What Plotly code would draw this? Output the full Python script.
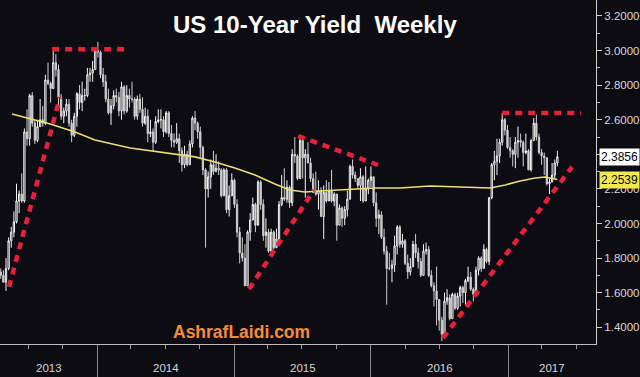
import pandas as pd
import plotly.graph_objects as go

# ---------------- data ----------------
week_end = pd.date_range("2013-04-19", periods=213, freq="W-FRI")

opens = [
    1.72, 1.70, 1.66, 1.74, 1.90, 1.95, 2.01, 2.13, 2.17, 2.13, 2.53, 2.49, 2.74, 2.58, 2.48, 2.56, 2.60, 2.58, 2.83, 2.81,
    2.78, 2.93, 2.89, 2.73, 2.62, 2.65, 2.69, 2.58, 2.51, 2.62, 2.75, 2.70, 2.74, 2.74, 2.86, 2.87, 2.89,
    3.00, 2.99, 2.86, 2.82, 2.72, 2.64, 2.68, 2.74, 2.73, 2.65, 2.79, 2.65, 2.74, 2.72, 2.72, 2.62, 2.72, 2.66, 2.58, 2.62,
    2.52, 2.53, 2.47, 2.59, 2.60, 2.60, 2.53, 2.64, 2.52, 2.48, 2.47, 2.49, 2.42, 2.34, 2.40, 2.34, 2.46, 2.61, 2.58, 2.53,
    2.44, 2.31, 2.20, 2.27, 2.34, 2.30, 2.32, 2.31, 2.16, 2.31, 2.08, 2.16,
    2.25, 2.11, 1.95, 1.83, 1.80, 1.64, 1.95, 2.02, 2.11, 1.99, 2.24, 2.11, 1.93, 1.95, 1.84, 1.95, 1.86, 1.91, 2.11, 2.15,
    2.14, 2.21, 2.12, 2.40, 2.39, 2.26, 2.48, 2.38, 2.40, 2.35, 2.26, 2.18, 2.17, 2.19, 2.04, 2.18, 2.13, 2.19, 2.13, 2.17,
    1.99, 2.09, 2.03, 2.08, 2.14, 2.33, 2.28, 2.26, 2.22, 2.27, 2.13, 2.20,
    2.25, 2.27, 2.12, 2.03, 2.05, 1.92, 1.84, 1.74, 1.74, 1.76, 1.87, 1.98, 1.88, 1.90, 1.77, 1.72, 1.75, 1.88, 1.83, 1.78,
    1.70, 1.84, 1.85, 1.70, 1.64, 1.61, 1.56, 1.44, 1.36, 1.55, 1.57, 1.45, 1.59, 1.51, 1.58, 1.63, 1.60, 1.67, 1.69, 1.62,
    1.59, 1.73, 1.80, 1.74, 1.85, 1.78, 2.15, 2.34, 2.36, 2.39, 2.47, 2.60, 2.54,
    2.44, 2.42, 2.40, 2.47, 2.48, 2.47, 2.41, 2.42, 2.31, 2.48, 2.58, 2.50, 2.41, 2.39, 2.38, 2.23, 2.24, 2.28, 2.35,
]
highs = [
    1.74, 1.73, 1.80, 1.92, 1.98, 2.07, 2.23, 2.19, 2.29, 2.55, 2.66, 2.75, 2.76, 2.60, 2.60, 2.72, 2.68, 2.86, 2.93, 2.82,
    3.00, 2.98, 2.92, 2.75, 2.67, 2.72, 2.72, 2.60, 2.64, 2.76, 2.80, 2.82, 2.78, 2.90, 2.90, 2.94, 3.02,
    3.05, 3.00, 2.90, 2.86, 2.78, 2.72, 2.77, 2.78, 2.76, 2.82, 2.80, 2.80, 2.78, 2.82, 2.73, 2.74, 2.75, 2.73, 2.67, 2.66,
    2.60, 2.55, 2.62, 2.66, 2.66, 2.62, 2.65, 2.65, 2.57, 2.52, 2.58, 2.52, 2.44, 2.45, 2.42, 2.48, 2.62, 2.65, 2.59, 2.56,
    2.45, 2.32, 2.30, 2.37, 2.42, 2.40, 2.36, 2.32, 2.32, 2.32, 2.22, 2.29,
    2.26, 2.14, 1.98, 1.92, 1.88, 1.96, 2.06, 2.15, 2.12, 2.25, 2.25, 2.14, 2.03, 1.97, 1.97, 1.96, 1.97, 2.13, 2.28, 2.32,
    2.25, 2.22, 2.43, 2.50, 2.40, 2.49, 2.50, 2.43, 2.47, 2.38, 2.29, 2.30, 2.25, 2.21, 2.22, 2.25, 2.24, 2.31, 2.18, 2.17,
    2.11, 2.10, 2.10, 2.19, 2.34, 2.37, 2.30, 2.26, 2.32, 2.28, 2.33, 2.26,
    2.33, 2.27, 2.18, 2.08, 2.07, 1.97, 1.87, 1.83, 1.79, 1.93, 1.99, 1.99, 1.94, 1.91, 1.82, 1.80, 1.90, 1.94, 1.86, 1.80,
    1.88, 1.89, 1.87, 1.73, 1.66, 1.75, 1.56, 1.46, 1.60, 1.62, 1.59, 1.60, 1.60, 1.60, 1.64, 1.64, 1.68, 1.75, 1.72, 1.63,
    1.75, 1.81, 1.81, 1.88, 1.86, 2.15, 2.35, 2.42, 2.49, 2.49, 2.64, 2.61, 2.57,
    2.50, 2.43, 2.50, 2.56, 2.52, 2.48, 2.52, 2.43, 2.49, 2.61, 2.63, 2.52, 2.43, 2.41, 2.38, 2.26, 2.35, 2.37, 2.42,
]
lows = [
    1.68, 1.66, 1.61, 1.73, 1.86, 1.92, 2.00, 2.06, 2.12, 2.12, 2.45, 2.45, 2.56, 2.46, 2.47, 2.56, 2.56, 2.57, 2.80, 2.70,
    2.78, 2.85, 2.68, 2.60, 2.58, 2.62, 2.56, 2.47, 2.50, 2.56, 2.66, 2.65, 2.71, 2.73, 2.82, 2.82, 2.89,
    2.96, 2.84, 2.79, 2.70, 2.63, 2.57, 2.66, 2.70, 2.62, 2.60, 2.63, 2.64, 2.67, 2.70, 2.60, 2.60, 2.64, 2.56, 2.57, 2.47,
    2.50, 2.42, 2.46, 2.58, 2.55, 2.50, 2.52, 2.50, 2.44, 2.44, 2.46, 2.35, 2.30, 2.32, 2.33, 2.34, 2.44, 2.54, 2.49, 2.38,
    2.28, 1.86, 2.15, 2.20, 2.28, 2.30, 2.28, 2.15, 2.16, 2.06, 2.04, 2.16,
    2.09, 1.92, 1.77, 1.78, 1.64, 1.64, 1.90, 2.02, 1.95, 1.99, 2.08, 1.90, 1.86, 1.83, 1.84, 1.85, 1.86, 1.88, 2.10, 2.13,
    2.12, 2.09, 2.10, 2.35, 2.25, 2.26, 2.26, 2.15, 2.35, 2.24, 2.18, 2.16, 2.08, 2.04, 1.91, 2.12, 2.13, 2.12, 2.10, 1.90,
    1.99, 1.98, 1.99, 2.04, 2.14, 2.26, 2.24, 2.20, 2.13, 2.12, 2.13, 2.17,
    2.21, 2.10, 1.98, 1.94, 1.91, 1.82, 1.53, 1.73, 1.66, 1.72, 1.82, 1.86, 1.86, 1.76, 1.68, 1.70, 1.75, 1.80, 1.74, 1.69,
    1.70, 1.82, 1.69, 1.63, 1.52, 1.41, 1.38, 1.32, 1.36, 1.53, 1.44, 1.45, 1.50, 1.50, 1.52, 1.54, 1.53, 1.66, 1.61, 1.55,
    1.59, 1.70, 1.72, 1.74, 1.77, 1.76, 2.14, 2.25, 2.28, 2.35, 2.45, 2.51, 2.43,
    2.38, 2.33, 2.32, 2.38, 2.44, 2.33, 2.40, 2.31, 2.30, 2.48, 2.48, 2.40, 2.34, 2.28, 2.22, 2.17, 2.24, 2.26, 2.33,
]
closes = [
    1.70, 1.66, 1.74, 1.90, 1.95, 2.01, 2.13, 2.17, 2.13, 2.53, 2.49, 2.74, 2.58, 2.48, 2.56, 2.60, 2.58, 2.83, 2.81, 2.78,
    2.93, 2.89, 2.73, 2.62, 2.65, 2.69, 2.58, 2.51, 2.62, 2.75, 2.70, 2.74, 2.74, 2.86, 2.87, 2.89, 3.00,
    2.99, 2.86, 2.82, 2.72, 2.64, 2.68, 2.74, 2.73, 2.65, 2.79, 2.65, 2.74, 2.72, 2.72, 2.62, 2.72, 2.66, 2.58, 2.62, 2.52,
    2.53, 2.47, 2.59, 2.60, 2.60, 2.53, 2.64, 2.52, 2.48, 2.47, 2.49, 2.42, 2.34, 2.40, 2.34, 2.46, 2.61, 2.58, 2.53, 2.44,
    2.31, 2.20, 2.27, 2.34, 2.30, 2.32, 2.31, 2.16, 2.31, 2.08, 2.16, 2.25,
    2.11, 1.95, 1.83, 1.80, 1.64, 1.95, 2.02, 2.11, 1.99, 2.24, 2.11, 1.93, 1.95, 1.84, 1.95, 1.86, 1.91, 2.11, 2.15, 2.14,
    2.21, 2.12, 2.40, 2.39, 2.26, 2.48, 2.38, 2.40, 2.35, 2.26, 2.18, 2.17, 2.19, 2.04, 2.18, 2.13, 2.19, 2.13, 2.17, 1.99,
    2.09, 2.03, 2.08, 2.14, 2.33, 2.28, 2.26, 2.22, 2.27, 2.13, 2.20, 2.25,
    2.27, 2.12, 2.03, 2.05, 1.92, 1.84, 1.74, 1.74, 1.76, 1.87, 1.98, 1.88, 1.90, 1.77, 1.72, 1.75, 1.88, 1.83, 1.78, 1.70,
    1.84, 1.85, 1.70, 1.64, 1.61, 1.56, 1.44, 1.36, 1.55, 1.57, 1.45, 1.59, 1.51, 1.58, 1.63, 1.60, 1.67, 1.69, 1.62, 1.59,
    1.73, 1.80, 1.74, 1.85, 1.78, 2.15, 2.34, 2.36, 2.39, 2.47, 2.60, 2.54, 2.44,
    2.42, 2.40, 2.47, 2.48, 2.47, 2.41, 2.42, 2.31, 2.48, 2.58, 2.50, 2.41, 2.39, 2.38, 2.23, 2.24, 2.28, 2.35, 2.3856,
]

# moving average
ma_dates = ["2013-05-19", "2013-08-29", "2013-11-03", "2013-12-26", "2014-03-30", "2014-06-18",
            "2014-09-19", "2014-11-11", "2015-01-03", "2015-02-26", "2015-04-20", "2015-05-30",
            "2015-07-09", "2015-08-18", "2015-11-06", "2016-01-12", "2016-03-19", "2016-06-07",
            "2016-08-26", "2016-11-14", "2016-12-24", "2017-02-02", "2017-03-14", "2017-04-09",
            "2017-05-12"]
ma_values = [2.633, 2.575, 2.529, 2.483, 2.437, 2.413, 2.385, 2.356, 2.321, 2.280, 2.228, 2.194,
             2.182, 2.188, 2.199, 2.205, 2.205, 2.217, 2.211, 2.205, 2.223, 2.246, 2.263, 2.269,
             2.2539]

# red dashed trend lines
trend_start_dates = ["2013-05-11", "2013-09-03", "2015-02-10", "2015-06-21", "2016-12-16", "2016-07-11"]
trend_start_vals = [1.633, 3.007, 1.621, 2.506, 2.639, 1.338]
trend_end_dates = ["2013-09-24", "2014-03-24", "2015-08-02", "2016-01-28", "2017-07-14", "2017-06-20"]
trend_end_vals = [2.731, 3.007, 2.194, 2.332, 2.639, 2.327]

year_labels = ["2013", "2014", "2015", "2016", "2017"]
x_range = ["2013-04-17", "2017-08-23"]
y_range = [1.303, 3.2925]

BG = "#0d0c13"
FONT = "Liberation Sans, Arial, sans-serif"

fig = go.Figure()

fig.add_trace(go.Candlestick(
    x=week_end, open=opens, high=highs, low=lows, close=closes,
    increasing=dict(line=dict(color="#f4f4f4", width=1), fillcolor=BG),
    decreasing=dict(line=dict(color="#cfcfcf", width=1), fillcolor="#cfcfcf"),
    whiskerwidth=0, showlegend=False, hoverinfo="skip",
))

fig.add_trace(go.Scatter(
    x=ma_dates, y=ma_values, mode="lines",
    line=dict(color="#e8e070", width=1.6), showlegend=False, hoverinfo="skip",
))

for xs, ys, xe, ye in zip(trend_start_dates, trend_start_vals, trend_end_dates, trend_end_vals):
    fig.add_trace(go.Scatter(
        x=[xs, xe], y=[ys, ye], mode="lines",
        line=dict(color="#e8203e", width=4.5, dash="7px,6px"),
        showlegend=False, hoverinfo="skip",
    ))

# year labels centred in the visible part of each year
x0 = pd.Timestamp(x_range[0])
x1 = pd.Timestamp(x_range[1])
annotations = []
for lab in year_labels:
    ys = max(pd.Timestamp(f"{lab}-01-01"), x0)
    ye = min(pd.Timestamp(f"{int(lab) + 1}-01-01"), x1)
    mid = ys + (ye - ys) / 2
    annotations.append(dict(
        x=mid, y=0, xref="x", yref="paper", text=lab, showarrow=False,
        yanchor="middle", yshift=-24, font=dict(family=FONT, size=11.5, color="#d6d6d6"),
    ))

annotations.append(dict(
    x=315 / 596, y=1, xref="paper", yref="paper", yanchor="middle", yshift=-24,
    text="US 10-Year Yield\u00a0\u00a0Weekly", showarrow=False,
    font=dict(family=FONT, size=24, color="#ffffff", weight="bold"),
))
annotations.append(dict(
    x=241 / 596, y=0, xref="paper", yref="paper", yanchor="middle", yshift=12,
    text="AshrafLaidi.com", showarrow=False,
    font=dict(family=FONT, size=17.5, color="#f28e35", weight="bold"),
))
annotations.append(dict(
    x=1, y=closes[-1], xref="paper", yref="y", xanchor="left", yanchor="middle", xshift=3,
    text=f"{closes[-1]:.4f}", showarrow=False, bgcolor="#ffffff", borderpad=1,
    font=dict(family=FONT, size=12, color="#000000"),
))
annotations.append(dict(
    x=1, y=ma_values[-1], xref="paper", yref="y", xanchor="left", yanchor="middle", xshift=3,
    text=f"{ma_values[-1]:.4f}", showarrow=False, bgcolor="#f3e84e", borderpad=1,
    font=dict(family=FONT, size=12, color="#000000"),
))

fig.update_layout(
    width=640, height=377,
    margin=dict(l=0, r=44, t=0, b=33),
    paper_bgcolor=BG, plot_bgcolor=BG,
    showlegend=False,
    annotations=annotations,
    xaxis=dict(
        type="date", range=x_range, rangeslider=dict(visible=False),
        showgrid=False, zeroline=False,
        showline=True, linecolor="#bdbdbd", linewidth=1,
        tickmode="array", tickvals=[f"{y}-01-01" for y in range(2014, 2018)],
        ticks="outside", ticklen=33, tickcolor="#8a8a8a", tickwidth=1,
        showticklabels=False,
        minor=dict(ticks="outside", ticklen=4, tickcolor="#9a9a9a", dtick="M3",
                   tick0="2013-01-01", showgrid=False),
    ),
    yaxis=dict(
        side="right", range=y_range, showgrid=False, zeroline=False,
        tickmode="linear", tick0=1.4, dtick=0.2, tickformat=".4f",
        ticks="outside", ticklen=5, tickcolor="#d0d0d0", tickwidth=1,
        showline=True, linecolor="#d0d0d0", linewidth=1,
        tickfont=dict(family=FONT, size=11.5, color="#d8d8d8"),
        minor=dict(ticks="outside", ticklen=3, tickcolor="#bdbdbd", dtick=0.1, showgrid=False),
    ),
)

fig.write_html(
    "out.html",
    config={"displayModeBar": False, "staticPlot": True},
    post_script="document.body.style.margin='0px';document.body.style.overflow='hidden';"
                "document.body.style.background='" + BG + "';",
)
